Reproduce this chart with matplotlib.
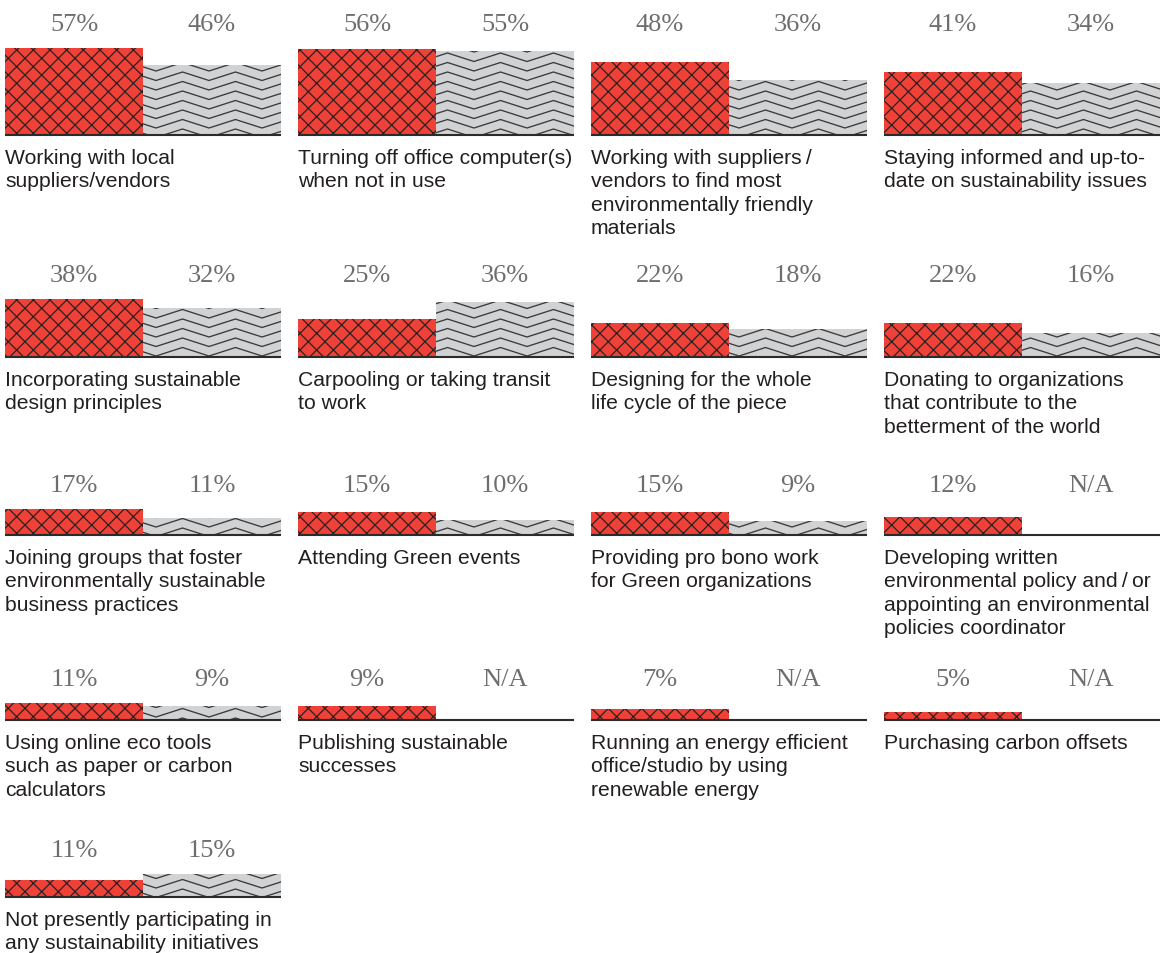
import matplotlib
matplotlib.use("Agg")
import matplotlib.pyplot as plt
from matplotlib.lines import Line2D
from matplotlib.transforms import IdentityTransform
import numpy as np

# ---------------- data ----------------
categories = [
    "Working with local\nsuppliers/vendors",
    "Turning off office computer(s)\nwhen not in use",
    "Working with suppliers\u2009/\nvendors to find most\nenvironmentally friendly\nmaterials",
    "Staying informed and up-to-\ndate on sustainability issues",
    "Incorporating sustainable\ndesign principles",
    "Carpooling or taking transit\nto work",
    "Designing for the whole\nlife cycle of the piece",
    "Donating to organizations\nthat contribute to the\nbetterment of the world",
    "Joining groups that foster\nenvironmentally sustainable\nbusiness practices",
    "Attending Green events",
    "Providing pro bono work\nfor Green organizations",
    "Developing written\nenvironmental policy and\u2009/\u2009or\nappointing an environmental\npolicies coordinator",
    "Using online eco tools\nsuch as paper or carbon\ncalculators",
    "Publishing sustainable\nsuccesses",
    "Running an energy efficient\noffice/studio by using\nrenewable energy",
    "Purchasing carbon offsets",
    "Not presently participating in\nany sustainability initiatives",
]
series_red = [57, 56, 48, 41, 38, 25, 22, 22, 17, 15, 15, 12, 11, 9, 7, 5, 11]
series_gray = [46, 55, 36, 34, 32, 36, 18, 16, 11, 10, 9, None, 9, None, None, None, 15]
na_label = "N/A"

# ---------------- layout / style ----------------
W, H = 1167, 954
DPI = 100
RED = "#ef4137"
GRAY = "#d1d2d4"
HATCH_COL = "#2a2222"
ZIG_COL = "#3a3a3a"
PCT_COL = "#6e6e6e"
TXT_COL = "#231f20"

plt.rcParams["hatch.linewidth"] = 0.9

col_left = [5, 298, 591, 884]
panel_w = 276
row_base = [136, 358, 536, 721, 898]
PX_PER_PCT = 1.53
AX_H = 110  # px

fig = plt.figure(figsize=(W / DPI, H / DPI), dpi=DPI)
fig.patch.set_facecolor("white")


def zigzag_lines(x0, x1, ytop_img, ybot_img):
    """global zigzag pattern in image pixel coords -> display coords"""
    period, amp, spacing = 53.0, 8.5, 9.5
    xstart = 156 - period * np.ceil((156 - (x0 - period)) / period)
    xs = np.arange(xstart, x1 + period, period / 2)
    idx = np.arange(len(xs))
    is_valley = (idx % 2 == 0)
    lines = []
    kstart = np.floor((ytop_img - 72) / spacing) - 2
    kend = np.ceil((ybot_img - 72) / spacing) + 3
    for k in np.arange(kstart, kend):
        y0 = 72 + k * spacing
        ys_img = np.where(is_valley, y0, y0 - amp)
        lines.append((xs, H - ys_img))
    return lines


for i, (cat, r, g) in enumerate(zip(categories, series_red, series_gray)):
    row, col = divmod(i, 4)
    left = col_left[col]
    base = row_base[row]
    ax = fig.add_axes([left / W, (H - base) / H, panel_w / W, AX_H / H])
    ax.set_xlim(0, 2)
    ax.set_ylim(0, AX_H / PX_PER_PCT)
    ax.axis("off")

    # red bar: fill + crosshatch
    ax.bar([0], [r], width=1, align="edge", color=RED, linewidth=0)
    ax.bar([0], [r], width=1, align="edge", facecolor="none",
           edgecolor=HATCH_COL, linewidth=0, hatch="xx")

    if g is not None:
        bars = ax.bar([1], [g], width=1, align="edge", color=GRAY, linewidth=0)
        patch = bars[0]
        for xs, ys in zigzag_lines(left + panel_w / 2 - 5, left + panel_w + 5,
                                   base - AX_H, base):
            ln = Line2D(xs, ys, transform=IdentityTransform(), color=ZIG_COL,
                        linewidth=0.95, solid_joinstyle="miter")
            ax.add_line(ln)
            ln.set_clip_path(patch)

    # baseline
    ax.plot([0, 2], [0, 0], color="#2b2b2b", linewidth=1.5,
            solid_capstyle="butt", clip_on=False)

    # percent labels
    rowvals = [v for j in range(row * 4, min(row * 4 + 4, len(series_red)))
               for v in (series_red[j], series_gray[j]) if v is not None]
    rowmax = max(rowvals)
    labels = [f"{r}%", f"{g}%" if g is not None else na_label]
    for j, lab in enumerate(labels):
        ax.annotate(lab, (j + 0.5, rowmax), xytext=(0, 18),
                    textcoords="offset pixels", ha="center", va="baseline",
                    fontsize=19, color=PCT_COL, family="Liberation Serif",
                    annotation_clip=False)

    # category label
    ax.annotate(cat, (0, 0), xytext=(0, -13), textcoords="offset pixels",
                ha="left", va="top", fontsize=15.2, color=TXT_COL,
                family=["Liberation Sans", "DejaVu Sans"], linespacing=1.29,
                annotation_clip=False)

fig.savefig("out.png", dpi=DPI, facecolor="white")
